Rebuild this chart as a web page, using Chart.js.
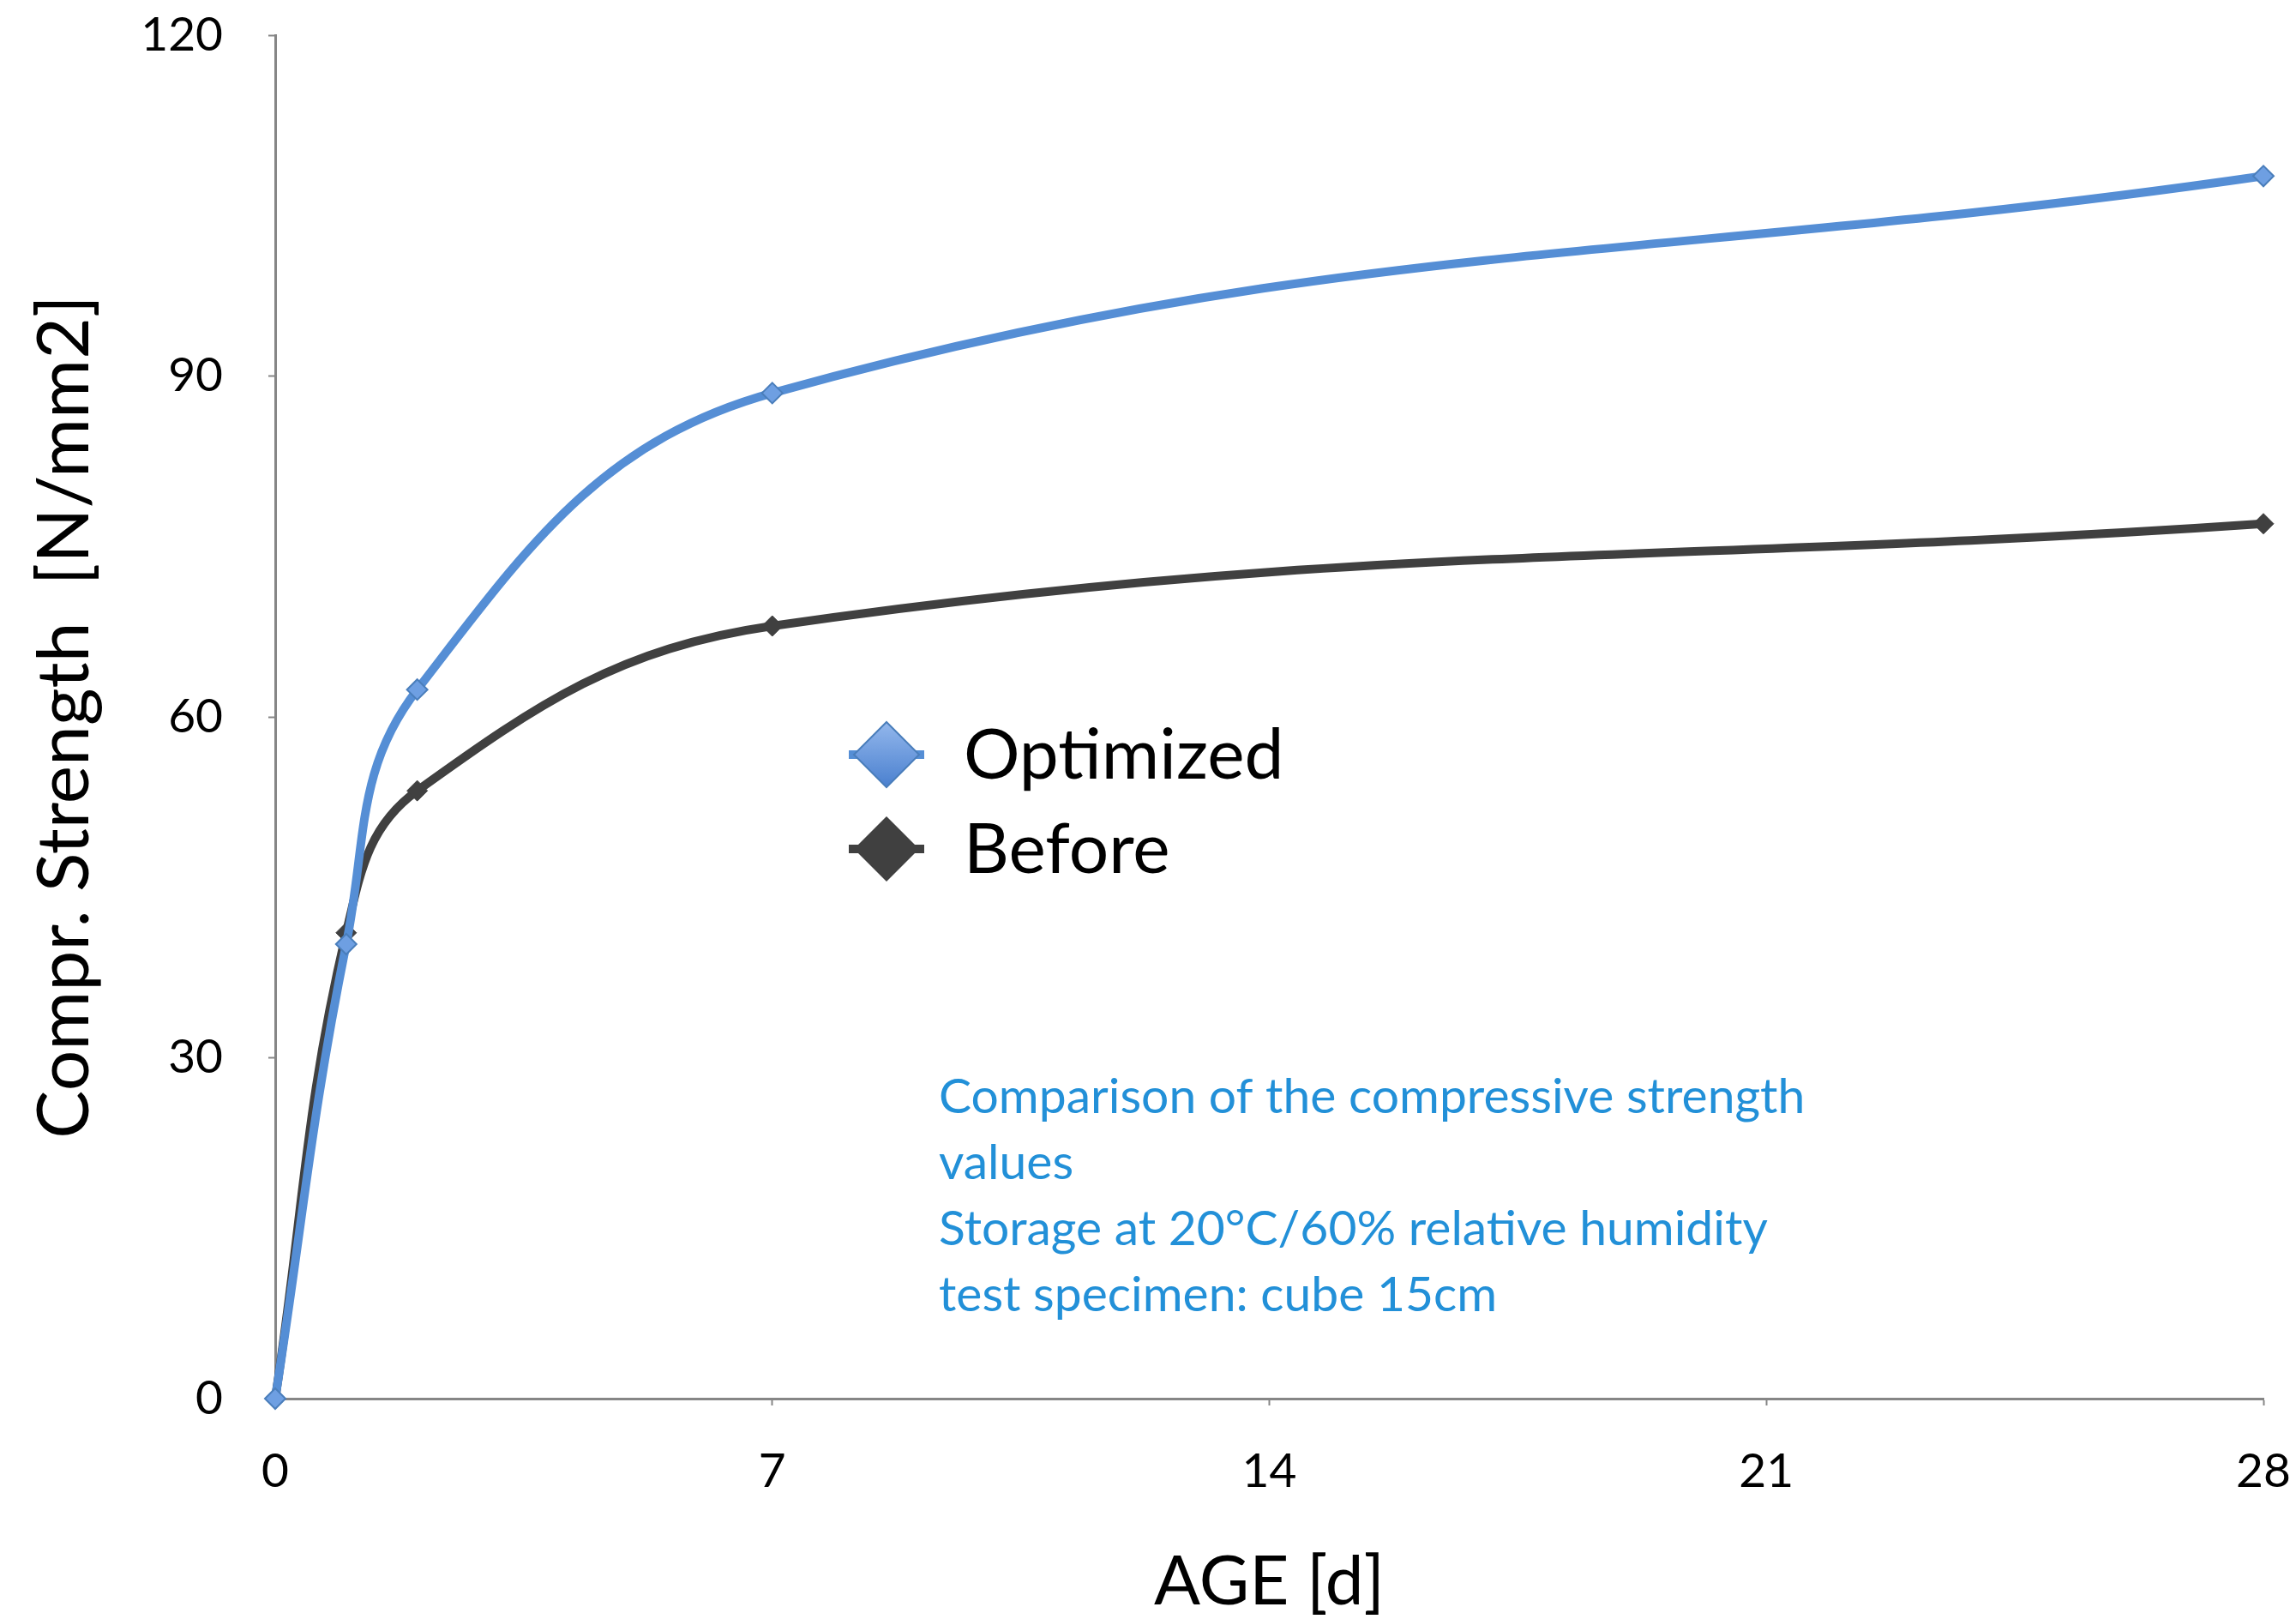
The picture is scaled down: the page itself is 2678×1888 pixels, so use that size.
<!DOCTYPE html>
<html>
<head>
<meta charset="utf-8">
<script src="https://cdn.jsdelivr.net/npm/chart.js@4/dist/chart.umd.min.js"></script>
<style>
  html, body { margin: 0; padding: 0; background: #ffffff; }
  #wrap { width: 2678px; height: 1888px; position: relative; }
  canvas { display: block; }
</style>
</head>
<body>
<div id="wrap"><canvas id="c" width="2678" height="1888"></canvas></div>
<script>
// ---- Data ----
const ageDays = [0, 1, 2, 7, 28];
const optimizedValues = [0, 40, 62.4, 88.5, 107.6];
const beforeValues = [0, 41, 53.5, 68, 77];
const seriesNames = ['Optimized', 'Before'];
const xTicks = [0, 7, 14, 21, 28];
const yTicks = [0, 30, 60, 90, 120];
const xTitle = 'AGE [d]';
const yTitle = 'Compr. Strength  [N/mm2]';
const noteLines = [
  'Comparison of the compressive strength',
  'values',
  'Storage at 20°C/60% relative humidity',
  'test specimen: cube 15cm'
];

const FONT = 'Lato, "Open Sans", "Noto Sans", sans-serif';
const BLUE = '#558ED5';
const DARK = '#404040';
const AXIS = '#868686';

function toPoints(xs, ys) { return xs.map((x, i) => ({ x: x, y: ys[i] })); }

const legendPlugin = {
  id: 'customLegend',
  afterDraw(chart) {
    const ctx = chart.ctx;
    const rows = [
      { ds: chart.data.datasets[0], cy: 880, gradient: true },
      { ds: chart.data.datasets[1], cy: 990, gradient: false }
    ];
    ctx.save();
    rows.forEach(r => {
      const cx = 1034, rad = 38;
      ctx.strokeStyle = r.ds.borderColor;
      ctx.lineWidth = 10;
      ctx.beginPath();
      ctx.moveTo(cx - 44, r.cy);
      ctx.lineTo(cx + 44, r.cy);
      ctx.stroke();
      ctx.beginPath();
      ctx.moveTo(cx, r.cy - rad);
      ctx.lineTo(cx + rad, r.cy);
      ctx.lineTo(cx, r.cy + rad);
      ctx.lineTo(cx - rad, r.cy);
      ctx.closePath();
      if (r.gradient) {
        const g = ctx.createLinearGradient(0, r.cy - rad, 0, r.cy + rad);
        g.addColorStop(0, '#93B7EC');
        g.addColorStop(1, '#4A80CF');
        ctx.fillStyle = g;
        ctx.fill();
        ctx.strokeStyle = '#4A7EBB';
        ctx.lineWidth = 2;
        ctx.stroke();
      } else {
        ctx.fillStyle = r.ds.backgroundColor;
        ctx.fill();
      }
      ctx.fillStyle = '#000';
      ctx.font = '82px ' + FONT;
      ctx.textAlign = 'left';
      ctx.textBaseline = 'alphabetic';
      ctx.fillText(r.ds.label, 1124, r.cy + 28);
    });
    // note text
    ctx.fillStyle = '#2290D8';
    ctx.font = '57px ' + FONT;
    noteLines.forEach((t, i) => {
      ctx.fillText(t, 1095, 1298 + i * 77);
    });
    ctx.restore();
  }
};

function noPad(scale) {
  scale.paddingTop = 0; scale.paddingBottom = 0;
  scale.paddingLeft = 0; scale.paddingRight = 0;
}

const ctx = document.getElementById('c').getContext('2d');
new Chart(ctx, {
  type: 'scatter',
  data: {
    datasets: [
      {
        label: seriesNames[0],
        data: toPoints(ageDays, optimizedValues),
        showLine: true,
        borderColor: BLUE,
        backgroundColor: '#6E9FE2',
        borderWidth: 10,
        tension: 0.4,
        pointStyle: 'rectRot',
        pointRadius: 12,
        pointHoverRadius: 12,
        pointBackgroundColor: '#6E9FE2',
        pointBorderColor: '#4A7EBB',
        pointBorderWidth: 2,
        clip: false
      },
      {
        label: seriesNames[1],
        data: toPoints(ageDays, beforeValues),
        showLine: true,
        borderColor: DARK,
        backgroundColor: DARK,
        borderWidth: 10,
        tension: 0.4,
        pointStyle: 'rectRot',
        pointRadius: 12,
        pointHoverRadius: 12,
        pointBackgroundColor: DARK,
        pointBorderColor: DARK,
        pointBorderWidth: 1,
        clip: false
      }
    ]
  },
  options: {
    responsive: false,
    animation: false,
    events: [],
    layout: { padding: { top: 41, right: 38, left: 0, bottom: 0 } },
    plugins: {
      legend: { display: false },
      tooltip: { enabled: false }
    },
    scales: {
      x: {
        type: 'linear',
        min: 0, max: 28,
        afterBuildTicks(scale) { scale.ticks = xTicks.map(v => ({ value: v })); },
        afterFit(scale) { scale.height = 257; noPad(scale); },
        border: { display: true, color: AXIS, width: 3 },
        grid: { display: true, drawOnChartArea: false, drawTicks: true, tickLength: 8, tickColor: AXIS, tickWidth: 2 },
        ticks: { color: '#000', font: { family: FONT, size: 55 }, padding: 44, maxRotation: 0 },
        title: { display: true, text: xTitle, color: '#000', font: { family: FONT, size: 80, lineHeight: 1.0 }, padding: { top: 0, bottom: 3 } }
      },
      y: {
        type: 'linear',
        min: 0, max: 120,
        afterBuildTicks(scale) { scale.ticks = yTicks.map(v => ({ value: v })); },
        afterFit(scale) { scale.width = 321; noPad(scale); },
        border: { display: true, color: AXIS, width: 3 },
        grid: { display: true, drawOnChartArea: false, drawTicks: true, tickLength: 8, tickColor: AXIS, tickWidth: 2 },
        ticks: { color: '#000', font: { family: FONT, size: 55 }, padding: 53 },
        title: { display: true, text: yTitle, color: '#000', font: { family: FONT, size: 84, lineHeight: 1.0 }, padding: { top: 34, bottom: 0 } }
      }
    }
  },
  plugins: [legendPlugin]
});
</script>
</body>
</html>
